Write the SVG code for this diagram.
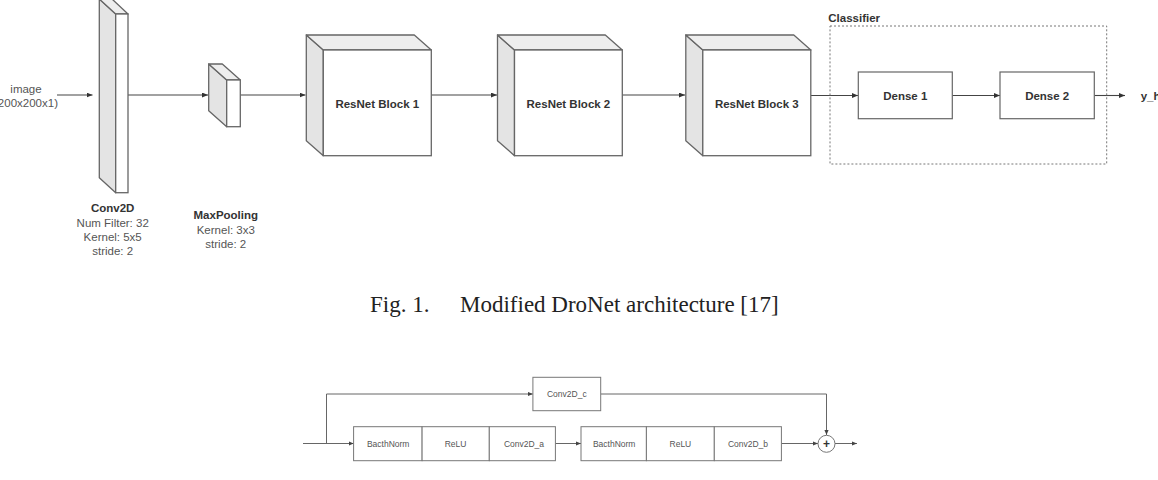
<svg xmlns="http://www.w3.org/2000/svg" width="1158" height="480" viewBox="0 0 1158 480">
<style>
.bg{fill:#fff}
.edge{fill:none;stroke:#444;stroke-width:1.1}
.edge2{fill:none;stroke:#666;stroke-width:1}
.front{fill:#fff;stroke:#666;stroke-width:1.3}
.side{fill:#e4e4e4;stroke:#666;stroke-width:1.3;stroke-linejoin:round}
.top{fill:#eeeeee;stroke:#666;stroke-width:1.3;stroke-linejoin:round}
.box{fill:#fff;stroke:#666;stroke-width:1.2}
.box2{fill:#fff;stroke:#777;stroke-width:1}
.dash{fill:none;stroke:#777;stroke-width:1;stroke-dasharray:2 2}
.b{font-family:"Liberation Sans",Arial,sans-serif;font-weight:bold;font-size:11.5px;fill:#333;text-anchor:middle}
.r{font-family:"Liberation Sans",Arial,sans-serif;font-size:11.5px;fill:#555;text-anchor:middle}
.s{font-family:"Liberation Sans",Arial,sans-serif;font-size:8.5px;fill:#555;text-anchor:middle}
.cap{font-family:"Liberation Serif","Times New Roman",serif;font-size:23px;fill:#222}
</style>
<defs>
<marker id="ah" viewBox="0 0 12 10" refX="12" refY="5" markerWidth="6" markerHeight="5" markerUnits="userSpaceOnUse" orient="auto"><path d="M0,0 L12,5 L0,10 z" fill="#333"/></marker>
<marker id="ah2" viewBox="0 0 12 10" refX="12" refY="5" markerWidth="5" markerHeight="4.2" markerUnits="userSpaceOnUse" orient="auto"><path d="M0,0 L12,5 L0,10 z" fill="#444"/></marker>
</defs>
<rect class="bg" x="0" y="0" width="1158" height="480"/>

<!-- Top diagram connectors -->
<g id="connectors-top">
<line class="edge" x1="57" y1="95" x2="92.5" y2="95" marker-end="url(#ah)"/>
<line class="edge" x1="128" y1="95" x2="208" y2="95" marker-end="url(#ah)"/>
<line class="edge" x1="240.3" y1="95" x2="305.5" y2="95" marker-end="url(#ah)"/>
<line class="edge" x1="431" y1="95" x2="497" y2="95" marker-end="url(#ah)"/>
<line class="edge" x1="622" y1="95" x2="685" y2="95" marker-end="url(#ah)"/>
<line class="edge" x1="811" y1="95.5" x2="858" y2="95.5" marker-end="url(#ah)"/>
<line class="edge" x1="952.3" y1="95.5" x2="1000" y2="95.5" marker-end="url(#ah)"/>
<line class="edge" x1="1094.3" y1="95.5" x2="1125" y2="95.5" marker-end="url(#ah)"/>
</g>

<g id="input-image">
<text class="r" x="26" y="93">image</text>
<text class="r" x="26" y="107">(200x200x1)</text>
</g>

<g id="conv2d">
<polygon class="side" points="99.3,-1 115.7,14 115.7,192.7 99.3,177.7"/>
<polygon class="top" points="99.3,-1 112,-1 128,14 115.7,14"/>
<rect class="front" x="115.7" y="14" width="12.3" height="178.7"/>
<text class="b" x="112.7" y="212">Conv2D</text>
<text class="r" x="112.7" y="226.7">Num Filter: 32</text>
<text class="r" x="112.7" y="240.7">Kernel: 5x5</text>
<text class="r" x="112.7" y="254.7">stride: 2</text>
</g>

<g id="maxpooling">
<polygon class="side" points="208.7,64 226.7,80 226.7,126.7 208.7,110.7"/>
<polygon class="top" points="208.7,64 222.3,64 240.3,80 226.7,80"/>
<rect class="front" x="226.7" y="80" width="13.6" height="46.7"/>
<text class="b" x="225.8" y="219">MaxPooling</text>
<text class="r" x="225.8" y="233.5">Kernel: 3x3</text>
<text class="r" x="225.8" y="247.5">stride: 2</text>
</g>

<g id="resnet1">
<polygon class="side" points="306.3,35 323.3,50 323.3,155.7 306.3,140.7"/>
<polygon class="top" points="306.3,35 414.3,35 431.3,50 323.3,50"/>
<rect class="front" x="323.3" y="50" width="108" height="105.7"/>
<text class="b" x="377.3" y="108">ResNet Block 1</text>
</g>

<g id="resnet2">
<polygon class="side" points="497.5,35 514.5,50 514.5,155.7 497.5,140.7"/>
<polygon class="top" points="497.5,35 605.3,35 622.3,50 514.5,50"/>
<rect class="front" x="514.5" y="50" width="107.8" height="105.7"/>
<text class="b" x="568.4" y="108">ResNet Block 2</text>
</g>

<g id="resnet3">
<polygon class="side" points="685.8,35 702.8,50 702.8,155.7 685.8,140.7"/>
<polygon class="top" points="685.8,35 793.8,35 810.8,50 702.8,50"/>
<rect class="front" x="702.8" y="50" width="108" height="105.7"/>
<text class="b" x="756.8" y="108">ResNet Block 3</text>
</g>

<g id="classifier">
<rect class="dash" x="830" y="26" width="276.7" height="138"/>
<text class="b" x="828.3" y="22" style="text-anchor:start">Classifier</text>
</g>

<g id="dense1">
<rect class="box" x="858.3" y="72" width="94" height="46.7"/>
<text class="b" x="905.3" y="100">Dense 1</text>
</g>

<g id="dense2">
<rect class="box" x="1000" y="72" width="94.3" height="46.7"/>
<text class="b" x="1047.2" y="100">Dense 2</text>
</g>

<g id="output">
<text class="b" x="1140.7" y="100" style="text-anchor:start">y_hat</text>
</g>

<g id="caption">
<text class="cap" x="370" y="312">Fig. 1.<tspan x="460">Modified DroNet architecture [17]</tspan></text>
</g>

<!-- Bottom diagram -->
<g id="connectors-bottom">
<polyline class="edge2" points="303,443.5 353.6,443.5" marker-end="url(#ah2)"/>
<polyline class="edge2" points="326.5,443.5 326.5,394 532.9,394" marker-end="url(#ah2)"/>
<polyline class="edge2" points="555.4,443.5 581,443.5" marker-end="url(#ah2)"/>
<polyline class="edge2" points="781.4,443.5 818,443.5" marker-end="url(#ah2)"/>
<polyline class="edge2" points="600.7,394 826.5,394 826.5,435" marker-end="url(#ah2)"/>
<polyline class="edge2" points="835,443.5 857,443.5" marker-end="url(#ah2)"/>
</g>

<g id="conv2d-c">
<rect class="box2" x="532.9" y="377.3" width="67.8" height="33.4"/>
<text class="s" x="566.8" y="397">Conv2D_c</text>
</g>

<g id="block-a">
<rect class="box2" x="353.6" y="426.7" width="68.5" height="34"/>
<rect class="box2" x="422.1" y="426.7" width="67.2" height="34"/>
<rect class="box2" x="489.3" y="426.7" width="66.1" height="34"/>
<text class="s" x="388.2" y="446.5">BacthNorm</text>
<text class="s" x="455.5" y="446.5">ReLU</text>
<text class="s" x="524" y="446.5">Conv2D_a</text>
</g>

<g id="block-b">
<rect class="box2" x="581" y="426.7" width="65.4" height="34"/>
<rect class="box2" x="646.4" y="426.7" width="67.9" height="34"/>
<rect class="box2" x="714.3" y="426.7" width="67.1" height="34"/>
<text class="s" x="614.2" y="446.5">BacthNorm</text>
<text class="s" x="680.4" y="446.5">ReLU</text>
<text class="s" x="748" y="446.5">Conv2D_b</text>
</g>

<g id="sum">
<circle cx="826.5" cy="443.8" r="8.5" fill="#fff" stroke="#777" stroke-width="1"/>
<text x="826.5" y="447.8" style="font-family:'Liberation Sans',Arial,sans-serif;font-size:12px;font-weight:bold;fill:#333;text-anchor:middle">+</text>
</g>
</svg>
